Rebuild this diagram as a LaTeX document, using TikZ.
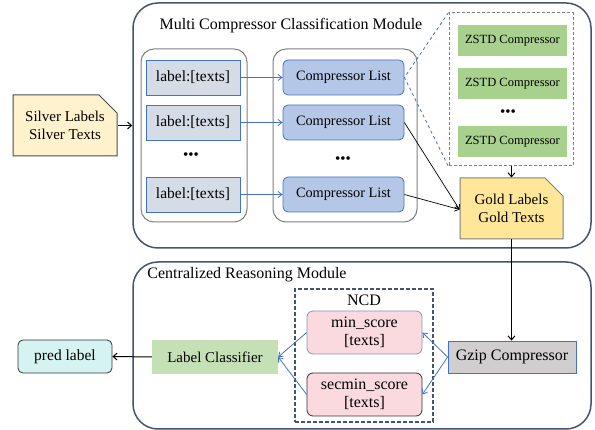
\documentclass[tikz,border=0pt]{standalone}
\usepackage{fontspec}
\setmainfont{Liberation Serif}
\usetikzlibrary{shapes.misc,arrows.meta}
\definecolor{slate}{HTML}{44546A}
\definecolor{grp}{HTML}{7F7F7F}
\definecolor{bblue}{HTML}{4472C4}
\definecolor{lblfill}{HTML}{D6DCE5}
\definecolor{clfill}{HTML}{B4C7E7}
\definecolor{zfill}{HTML}{A9D18E}
\definecolor{goldfill}{HTML}{FFE699}
\definecolor{silverfill}{HTML}{FFF2CC}
\definecolor{lcfill}{HTML}{C5E0B4}
\definecolor{predfill}{HTML}{D5F3F0}
\definecolor{pinkfill}{HTML}{FADADF}
\definecolor{pinkline}{HTML}{8497B0}
\definecolor{gzfill}{HTML}{D0CECE}
\newcommand{\fsz}[1]{\fontsize{#1}{\dimexpr #1pt*6/5\relax}\selectfont}
\tikzset{
  module/.style={draw=slate, line width=1.5pt, rounded corners=25pt, inner sep=0pt},
  group/.style={draw=grp, line width=1pt, rounded corners=13pt, inner sep=0pt},
  lblbox/.style={draw=bblue, fill=lblfill, line width=0.8pt, minimum width=94pt, minimum height=35pt, inner sep=0pt, font=\fsz{15.5}},
  clbox/.style={draw=bblue, fill=clfill, line width=0.8pt, rounded corners=5pt, minimum width=121pt, minimum height=35pt, inner sep=0pt, font=\fsz{14.3}},
  zbox/.style={fill=zfill, minimum width=109pt, minimum height=31pt, inner sep=0pt, font=\fsz{12.5}},
  doc/.style={chamfered rectangle, chamfered rectangle corners=north east, chamfered rectangle xsep=9pt, chamfered rectangle ysep=9pt, draw=grp, line width=1pt, inner sep=0pt, align=center, font=\fsz{15}},
  dots/.style={font=\fsz{15}, inner sep=0pt},
  title/.style={font=\fsz{16}, inner sep=0pt},
  barrow/.style={draw=bblue, line width=0.8pt, -{Straight Barb[length=4pt,width=6pt]}},
  karrow/.style={draw=black, line width=1pt, -{Straight Barb[length=4pt,width=7pt]}},
  tarrow/.style={draw=black, line width=0.7pt, -{Straight Barb[length=4pt,width=6pt]}},
  pinkbox/.style={fill=pinkfill, rounded corners=6pt, line width=0.8pt, minimum width=115pt, minimum height=43pt, inner sep=0pt, align=center, font=\fsz{16}},
}
\begin{document}
\begin{tikzpicture}[x=1pt,y=-1pt]
\useasboundingbox (0,0) rectangle (595,430);
% modules
\node[module, minimum width=458pt, minimum height=245pt] (top) at (362,125.5) {};
\node[title] (toptitle) at (291,26) {Multi Compressor Classification Module};
\node[module, minimum width=458pt, minimum height=167pt] (bot) at (362,345.5) {};
\node[title] (bottitle) at (247,275) {Centralized Reasoning Module};
% groups
\node[group, minimum width=106pt, minimum height=173pt] (g1) at (194,135.5) {};
\node[group, minimum width=144pt, minimum height=173pt] (g2) at (345,135.5) {};
% label boxes
\node[lblbox] (l1) at (193,77.5) {label:[texts]};
\node[lblbox] (l2) at (193,122.5) {label:[texts]};
\node[lblbox] (l3) at (193,194.5) {label:[texts]};
\node[dots] (d1) at (191,156) {•••};
% compressor lists
\node[clbox] (c1) at (343.5,77.5) {Compressor List};
\node[clbox] (c2) at (343.5,122.5) {Compressor List};
\node[clbox] (c3) at (343.5,194.5) {Compressor List};
\node[dots] (d2) at (343,160) {•••};
% zstd dashed box
\node[draw=grp, dash pattern=on 3pt off 2pt, line width=1pt, minimum width=124pt, minimum height=153pt, inner sep=0pt] (zb) at (511,89.5) {};
\node[zbox] (z1) at (512.5,40.5) {ZSTD Compressor};
\node[zbox] (z2) at (512.5,84) {ZSTD Compressor};
\node[zbox] (z3) at (512.5,142) {ZSTD Compressor};
\node[dots] (d3) at (508,113) {•••};
% gold & silver
\node[doc, fill=goldfill, minimum width=103pt, minimum height=61pt] (gold) at (511.5,208.5) {Gold Labels\\Gold Texts};
\node[doc, fill=silverfill, draw=black!70, minimum width=104pt, minimum height=61pt] (silver) at (65,125.5) {Silver Labels\\Silver Texts};
% bottom
\node[draw=slate, dash pattern=on 4pt off 2pt, line width=1.2pt, minimum width=138pt, minimum height=133pt, inner sep=0pt] (ncd) at (364,355.5) {};
\node[title] (ncdt) at (364,300) {NCD};
\node[pinkbox, draw=pinkline] (min) at (364.5,332.5) {min\_score\\[-1pt][texts]};
\node[pinkbox, draw=black!80] (sec) at (364.5,394.5) {secmin\_score\\[-1pt][texts]};
\node[draw=bblue, fill=gzfill, line width=0.8pt, minimum width=128pt, minimum height=32pt, inner sep=0pt, font=\fsz{16}] (gz) at (512,357) {Gzip Compressor};
\node[fill=lcfill, minimum width=126pt, minimum height=34pt, inner sep=0pt, font=\fsz{15}] (lc) at (215,357) {Label Classifier};
\node[draw=black!80, fill=predfill, rounded corners=5pt, line width=0.8pt, minimum width=94pt, minimum height=33pt, inner sep=0pt, font=\fsz{15.5}] (pred) at (65,356.5) {pred label};
% connectors
\draw[barrow] (l1) -- (c1);
\draw[barrow] (l2) -- (c2);
\draw[barrow] (l3) -- (c3);
\draw[draw=bblue, dashed, line width=0.8pt] (zb.north west) -- (c1.east) -- (zb.south west);
\coordinate (gin) at ([yshift=-1pt]gold.west);
\draw[tarrow] (c2.east) -- (gin);
\draw[tarrow] (c3.east) -- (gin);
\draw[karrow] (silver.east) -- (silver.east -| top.west);
\draw[karrow] (zb.south -| gold.north) -- (gold.north);
\draw[karrow] (gold.south) -- (gold.south |- gz.north);
\draw[barrow] (gz.west) -- (min.east);
\draw[barrow] (gz.west) -- (sec.east);
\draw[barrow] (min.west) -- (lc.east);
\draw[barrow] (sec.west) -- (lc.east);
\draw[karrow] (lc.west) -- (pred.east);
\end{tikzpicture}
\end{document}
